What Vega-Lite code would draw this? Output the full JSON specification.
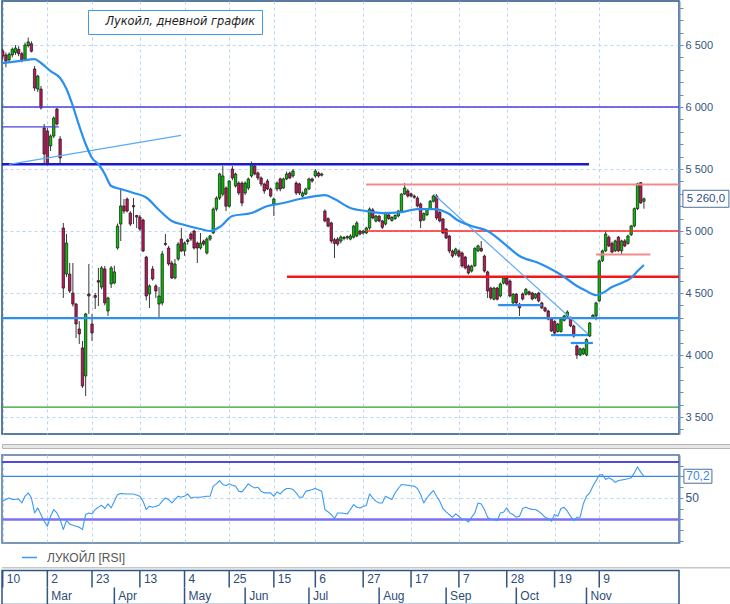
{
  "$schema": "https://vega.github.io/schema/vega-lite/v6.json",
  "description": "Лукойл, дневной график: свечи, скользящая средняя, уровни и RSI",
  "padding": {"left": 1, "top": 0, "right": 0, "bottom": 0},
  "background": "white",
  "config": {
    "locale": {"number": {"decimal": ",", "thousands": " ", "grouping": [3], "currency": ["", ""]}},
    "view": {"stroke": "#23507f", "strokeWidth": 1.5},
    "font": "Liberation Sans",
    "axis": {
      "labelFont": "Liberation Sans", "labelFontSize": 11, "labelColor": "#33557f",
      "domainColor": "#6d8db5", "domainWidth": 2, "tickColor": "#6d8db5", "tickSize": 4,
      "tickWidth": 1, "labelPadding": 2, "gridColor": "#b8d6f4", "gridDash": [3, 3], "gridWidth": 1
    }
  },
  "datasets": {
    "candles": [
      {"i":0,"o":6452,"h":6470,"l":6380,"c":6411},{"i":1,"o":6420,"h":6440,"l":6320,"c":6370},
      {"i":2,"o":6380,"h":6440,"l":6360,"c":6425},{"i":3,"o":6420,"h":6480,"l":6400,"c":6465},
      {"i":4,"o":6440,"h":6500,"l":6420,"c":6475},{"i":5,"o":6465,"h":6490,"l":6410,"c":6430},
      {"i":6,"o":6430,"h":6445,"l":6360,"c":6380},{"i":7,"o":6385,"h":6520,"l":6370,"c":6500},
      {"i":8,"o":6495,"h":6560,"l":6480,"c":6525},{"i":9,"o":6510,"h":6530,"l":6440,"c":6450},
      {"i":10,"o":6307,"h":6331,"l":6130,"c":6153},{"i":11,"o":6145,"h":6260,"l":6120,"c":6250},
      {"i":12,"o":6145,"h":6170,"l":5980,"c":5992},{"i":13,"o":5831,"h":5863,"l":5540,"c":5621},
      {"i":14,"o":5807,"h":5830,"l":5530,"c":5545},{"i":15,"o":5686,"h":5780,"l":5645,"c":5766},
      {"i":16,"o":5766,"h":5925,"l":5750,"c":5911},{"i":17,"o":5984,"h":5995,"l":5850,"c":5863},
      {"i":18,"o":5742,"h":5766,"l":5540,"c":5589},{"i":19,"o":5024,"h":5065,"l":4460,"c":4540},
      {"i":20,"o":4653,"h":4976,"l":4630,"c":4903},{"i":21,"o":4653,"h":4742,"l":4500,"c":4516},
      {"i":22,"o":4500,"h":4742,"l":4390,"c":4411},{"i":23,"o":4411,"h":4420,"l":4137,"c":4250},
      {"i":24,"o":4210,"h":4274,"l":4089,"c":4170},{"i":25,"o":4057,"h":4113,"l":3734,"c":3750},
      {"i":26,"o":3831,"h":4340,"l":3669,"c":4331},{"i":27,"o":4492,"h":4734,"l":4331,"c":4476},
      {"i":28,"o":4250,"h":4331,"l":4113,"c":4178},{"i":29,"o":4480,"h":4500,"l":4371,"c":4465},
      {"i":30,"o":4600,"h":4702,"l":4395,"c":4588},{"i":31,"o":4548,"h":4718,"l":4530,"c":4702},
      {"i":32,"o":4694,"h":4718,"l":4400,"c":4420},{"i":33,"o":4355,"h":4470,"l":4315,"c":4460},
      {"i":34,"o":4573,"h":4718,"l":4540,"c":4702},{"i":35,"o":4581,"h":4720,"l":4570,"c":4670},
      {"i":36,"o":4863,"h":5060,"l":4850,"c":5040},{"i":37,"o":5056,"h":5347,"l":4919,"c":5202},
      {"i":38,"o":5202,"h":5258,"l":5140,"c":5161},{"i":39,"o":5258,"h":5270,"l":5150,"c":5161},
      {"i":40,"o":5145,"h":5160,"l":5040,"c":5056},{"i":41,"o":5205,"h":5266,"l":5056,"c":5195},
      {"i":42,"o":5125,"h":5130,"l":5024,"c":5113},{"i":43,"o":5113,"h":5130,"l":5000,"c":5016},
      {"i":44,"o":5089,"h":5100,"l":4830,"c":4839},{"i":45,"o":4790,"h":4800,"l":4440,"c":4476},
      {"i":46,"o":4492,"h":4570,"l":4379,"c":4557},{"i":47,"o":4694,"h":4718,"l":4600,"c":4613},
      {"i":48,"o":4557,"h":4570,"l":4460,"c":4516},{"i":49,"o":4411,"h":4548,"l":4290,"c":4476},
      {"i":50,"o":4420,"h":4839,"l":4400,"c":4815},{"i":51,"o":4900,"h":4976,"l":4880,"c":4892},
      {"i":52,"o":4863,"h":4880,"l":4720,"c":4734},{"i":53,"o":4742,"h":4760,"l":4613,"c":4621},
      {"i":54,"o":4621,"h":4774,"l":4610,"c":4734},{"i":55,"o":4774,"h":4910,"l":4760,"c":4895},
      {"i":56,"o":4935,"h":5024,"l":4830,"c":4839},{"i":57,"o":4839,"h":4915,"l":4800,"c":4903},
      {"i":58,"o":4928,"h":4940,"l":4890,"c":4915},{"i":59,"o":4976,"h":4990,"l":4920,"c":4935},
      {"i":60,"o":5000,"h":5010,"l":4850,"c":4863},{"i":61,"o":4903,"h":4915,"l":4742,"c":4863},
      {"i":62,"o":4863,"h":4984,"l":4850,"c":4903},{"i":63,"o":4919,"h":4930,"l":4880,"c":4895},
      {"i":64,"o":4823,"h":4950,"l":4810,"c":4935},{"i":65,"o":4935,"h":4970,"l":4920,"c":4960},
      {"i":66,"o":4984,"h":5190,"l":4975,"c":5177},{"i":67,"o":5177,"h":5280,"l":5160,"c":5266},
      {"i":68,"o":5266,"h":5470,"l":5250,"c":5460},{"i":69,"o":5298,"h":5524,"l":5280,"c":5444},
      {"i":70,"o":5347,"h":5360,"l":5161,"c":5200},{"i":71,"o":5200,"h":5410,"l":5190,"c":5403},
      {"i":72,"o":5500,"h":5524,"l":5410,"c":5428},{"i":73,"o":5363,"h":5470,"l":5350,"c":5460},
      {"i":74,"o":5387,"h":5400,"l":5290,"c":5307},{"i":75,"o":5387,"h":5400,"l":5200,"c":5226},
      {"i":76,"o":5307,"h":5400,"l":5290,"c":5387},{"i":77,"o":5347,"h":5430,"l":5330,"c":5420},
      {"i":78,"o":5444,"h":5560,"l":5430,"c":5540},{"i":79,"o":5524,"h":5540,"l":5450,"c":5460},
      {"i":80,"o":5468,"h":5480,"l":5410,"c":5428},{"i":81,"o":5428,"h":5440,"l":5360,"c":5379},
      {"i":82,"o":5379,"h":5390,"l":5300,"c":5323},{"i":83,"o":5403,"h":5420,"l":5330,"c":5339},
      {"i":84,"o":5339,"h":5350,"l":5270,"c":5282},{"i":85,"o":5218,"h":5270,"l":5121,"c":5258},
      {"i":86,"o":5339,"h":5400,"l":5320,"c":5387},{"i":87,"o":5420,"h":5430,"l":5320,"c":5339},
      {"i":88,"o":5347,"h":5430,"l":5340,"c":5420},{"i":89,"o":5420,"h":5480,"l":5410,"c":5460},
      {"i":90,"o":5468,"h":5480,"l":5420,"c":5428},{"i":91,"o":5444,"h":5500,"l":5430,"c":5484},
      {"i":92,"o":5387,"h":5400,"l":5290,"c":5307},{"i":93,"o":5380,"h":5390,"l":5290,"c":5307},
      {"i":94,"o":5282,"h":5320,"l":5270,"c":5307},{"i":95,"o":5298,"h":5350,"l":5290,"c":5339},
      {"i":96,"o":5339,"h":5430,"l":5330,"c":5420},{"i":97,"o":5420,"h":5430,"l":5390,"c":5403},
      {"i":98,"o":5444,"h":5500,"l":5430,"c":5484},{"i":99,"o":5468,"h":5480,"l":5430,"c":5444},
      {"i":100,"o":5450,"h":5470,"l":5440,"c":5460},{"i":101,"o":5161,"h":5175,"l":5070,"c":5081},
      {"i":102,"o":5100,"h":5110,"l":5030,"c":5040},{"i":103,"o":5065,"h":5075,"l":4900,"c":4919},
      {"i":104,"o":4930,"h":4945,"l":4782,"c":4900},{"i":105,"o":4935,"h":4950,"l":4880,"c":4895},
      {"i":106,"o":4919,"h":4965,"l":4900,"c":4952},{"i":107,"o":4940,"h":4960,"l":4925,"c":4948},
      {"i":108,"o":4945,"h":4965,"l":4930,"c":4955},{"i":109,"o":4935,"h":4975,"l":4925,"c":4960},
      {"i":110,"o":4950,"h":5050,"l":4940,"c":5040},{"i":111,"o":4960,"h":5080,"l":4950,"c":5065},
      {"i":112,"o":5000,"h":5010,"l":4965,"c":4976},{"i":113,"o":4984,"h":5010,"l":4970,"c":5000},
      {"i":114,"o":4984,"h":5035,"l":4975,"c":5024},{"i":115,"o":5024,"h":5190,"l":5010,"c":5177},
      {"i":116,"o":5170,"h":5185,"l":5095,"c":5105},{"i":117,"o":5080,"h":5130,"l":5070,"c":5121},
      {"i":118,"o":5120,"h":5130,"l":5070,"c":5081},{"i":119,"o":5081,"h":5090,"l":5016,"c":5030},
      {"i":120,"o":5056,"h":5155,"l":5045,"c":5145},{"i":121,"o":5130,"h":5140,"l":5090,"c":5100},
      {"i":122,"o":5085,"h":5120,"l":5075,"c":5110},{"i":123,"o":5100,"h":5135,"l":5090,"c":5125},
      {"i":124,"o":5121,"h":5170,"l":5110,"c":5161},{"i":125,"o":5161,"h":5305,"l":5150,"c":5298},
      {"i":126,"o":5298,"h":5387,"l":5290,"c":5347},{"i":127,"o":5323,"h":5340,"l":5270,"c":5282},
      {"i":128,"o":5300,"h":5310,"l":5270,"c":5282},{"i":129,"o":5282,"h":5295,"l":5260,"c":5272},
      {"i":130,"o":5266,"h":5280,"l":5190,"c":5202},{"i":131,"o":5218,"h":5230,"l":5024,"c":5081},
      {"i":132,"o":5090,"h":5150,"l":5080,"c":5140},{"i":133,"o":5130,"h":5185,"l":5120,"c":5177},
      {"i":134,"o":5180,"h":5250,"l":5170,"c":5240},{"i":135,"o":5240,"h":5294,"l":5230,"c":5282},
      {"i":136,"o":5282,"h":5298,"l":5090,"c":5105},{"i":137,"o":5150,"h":5160,"l":5070,"c":5081},
      {"i":138,"o":5097,"h":5105,"l":4975,"c":4984},{"i":139,"o":5016,"h":5025,"l":4935,"c":4944},
      {"i":140,"o":4960,"h":4970,"l":4820,"c":4839},{"i":141,"o":4839,"h":4850,"l":4785,"c":4798},
      {"i":142,"o":4815,"h":4865,"l":4800,"c":4855},{"i":143,"o":4839,"h":4850,"l":4785,"c":4798},
      {"i":144,"o":4823,"h":4835,"l":4705,"c":4718},{"i":145,"o":4790,"h":4800,"l":4690,"c":4702},
      {"i":146,"o":4718,"h":4730,"l":4650,"c":4661},{"i":147,"o":4677,"h":4728,"l":4665,"c":4718},
      {"i":148,"o":4720,"h":4870,"l":4710,"c":4860},{"i":149,"o":4840,"h":4890,"l":4830,"c":4880},
      {"i":150,"o":4860,"h":4919,"l":4830,"c":4840},{"i":151,"o":4798,"h":4810,"l":4665,"c":4677},
      {"i":152,"o":4670,"h":4680,"l":4460,"c":4516},{"i":153,"o":4540,"h":4550,"l":4445,"c":4460},
      {"i":154,"o":4450,"h":4550,"l":4440,"c":4540},{"i":155,"o":4540,"h":4550,"l":4440,"c":4450},
      {"i":156,"o":4476,"h":4585,"l":4465,"c":4573},{"i":157,"o":4580,"h":4630,"l":4570,"c":4620},
      {"i":158,"o":4620,"h":4640,"l":4560,"c":4572},{"i":159,"o":4597,"h":4610,"l":4465,"c":4476},
      {"i":160,"o":4420,"h":4500,"l":4410,"c":4490},{"i":161,"o":4490,"h":4500,"l":4410,"c":4420},
      {"i":162,"o":4410,"h":4420,"l":4315,"c":4380},{"i":163,"o":4492,"h":4505,"l":4440,"c":4452},
      {"i":164,"o":4490,"h":4540,"l":4480,"c":4530},{"i":165,"o":4510,"h":4520,"l":4480,"c":4490},
      {"i":166,"o":4500,"h":4510,"l":4440,"c":4452},{"i":167,"o":4460,"h":4500,"l":4450,"c":4492},
      {"i":168,"o":4500,"h":4510,"l":4425,"c":4436},{"i":169,"o":4420,"h":4430,"l":4370,"c":4380},
      {"i":170,"o":4380,"h":4390,"l":4345,"c":4355},{"i":171,"o":4355,"h":4365,"l":4280,"c":4290},
      {"i":172,"o":4290,"h":4300,"l":4185,"c":4194},{"i":173,"o":4270,"h":4280,"l":4165,"c":4177},
      {"i":174,"o":4190,"h":4260,"l":4180,"c":4250},{"i":175,"o":4190,"h":4300,"l":4180,"c":4290},
      {"i":176,"o":4280,"h":4325,"l":4270,"c":4315},{"i":177,"o":4315,"h":4360,"l":4305,"c":4347},
      {"i":178,"o":4300,"h":4310,"l":4225,"c":4234},{"i":179,"o":4234,"h":4245,"l":4140,"c":4153},
      {"i":180,"o":4073,"h":4085,"l":3968,"c":4000},{"i":181,"o":4000,"h":4060,"l":3990,"c":4050},
      {"i":182,"o":4010,"h":4060,"l":4000,"c":4050},{"i":183,"o":4000,"h":4135,"l":3990,"c":4125},
      {"i":184,"o":4153,"h":4265,"l":4145,"c":4258},{"i":185,"o":4300,"h":4330,"l":4290,"c":4320},
      {"i":186,"o":4315,"h":4430,"l":4280,"c":4420},{"i":187,"o":4436,"h":4770,"l":4430,"c":4758},
      {"i":188,"o":4760,"h":4850,"l":4750,"c":4840},{"i":189,"o":4840,"h":5000,"l":4830,"c":4976},
      {"i":190,"o":4950,"h":4965,"l":4870,"c":4880},{"i":191,"o":4900,"h":4915,"l":4820,"c":4830},
      {"i":192,"o":4840,"h":4930,"l":4830,"c":4920},{"i":193,"o":4950,"h":4960,"l":4830,"c":4840},
      {"i":194,"o":4840,"h":4930,"l":4810,"c":4920},{"i":195,"o":4920,"h":4935,"l":4870,"c":4880},
      {"i":196,"o":4900,"h":4970,"l":4890,"c":4960},{"i":197,"o":4970,"h":5050,"l":4960,"c":5040},
      {"i":198,"o":5040,"h":5190,"l":5030,"c":5180},{"i":199,"o":5180,"h":5390,"l":5170,"c":5380},
      {"i":200,"o":5390,"h":5395,"l":5220,"c":5226},{"i":201,"o":5240,"h":5270,"l":5180,"c":5260}
    ],
    "ma": [
      {"i":0,"v":6355},{"i":5,"v":6370},{"i":10,"v":6387},{"i":12,"v":6355},{"i":15,"v":6290},
      {"i":18,"v":6234},{"i":20,"v":6145},{"i":22,"v":6008},{"i":24,"v":5847},{"i":26,"v":5702},
      {"i":28,"v":5589},{"i":30,"v":5540},{"i":32,"v":5460},{"i":34,"v":5363},{"i":37,"v":5339},
      {"i":41,"v":5307},{"i":45,"v":5270},{"i":49,"v":5170},{"i":53,"v":5081},{"i":57,"v":5049},
      {"i":62,"v":5016},{"i":65,"v":5000},{"i":68,"v":5032},{"i":72,"v":5121},{"i":78,"v":5145},
      {"i":83,"v":5202},{"i":88,"v":5226},{"i":93,"v":5258},{"i":98,"v":5282},{"i":101,"v":5290},
      {"i":104,"v":5258},{"i":109,"v":5186},{"i":114,"v":5161},{"i":119,"v":5145},{"i":125,"v":5153},
      {"i":130,"v":5177},{"i":135,"v":5177},{"i":140,"v":5137},{"i":142,"v":5097},{"i":147,"v":5040},
      {"i":152,"v":5000},{"i":157,"v":4903},{"i":162,"v":4798},{"i":168,"v":4742},{"i":173,"v":4677},
      {"i":176,"v":4629},{"i":180,"v":4557},{"i":183,"v":4516},{"i":186,"v":4482},{"i":188,"v":4500},
      {"i":191,"v":4548},{"i":194,"v":4581},{"i":197,"v":4621},{"i":199,"v":4677},{"i":201,"v":4726}
    ],
    "rsi": [
      {"i":0,"v":47},{"i":2,"v":50},{"i":3,"v":48.5},{"i":5,"v":49},{"i":6,"v":45.3},{"i":7,"v":51.6},
      {"i":8,"v":54.7},{"i":9,"v":50},{"i":10,"v":36},{"i":11,"v":40.7},{"i":12,"v":34.5},{"i":13,"v":28.3},
      {"i":14,"v":23.6},{"i":15,"v":32.9},{"i":16,"v":39.2},{"i":17,"v":36},{"i":18,"v":29.9},{"i":19,"v":20.5},
      {"i":20,"v":28.9},{"i":21,"v":25.7},{"i":22,"v":24.5},{"i":24,"v":22.7},{"i":25,"v":20.5},{"i":26,"v":34.5},
      {"i":27,"v":36},{"i":28,"v":35.1},{"i":29,"v":39.2},{"i":30,"v":41.3},{"i":31,"v":43.2},{"i":32,"v":40.1},
      {"i":33,"v":44.4},{"i":34,"v":40.7},{"i":35,"v":46.9},{"i":36,"v":53.2},{"i":37,"v":54.1},{"i":39,"v":53.7},
      {"i":41,"v":53.7},{"i":43,"v":51.6},{"i":44,"v":46.9},{"i":45,"v":39.2},{"i":46,"v":42.3},{"i":47,"v":41.3},
      {"i":49,"v":43.2},{"i":50,"v":47},{"i":51,"v":50},{"i":52,"v":48.5},{"i":53,"v":45.3},{"i":54,"v":48.5},
      {"i":55,"v":51.6},{"i":56,"v":50.7},{"i":57,"v":51.6},{"i":58,"v":53.7},{"i":59,"v":50},{"i":60,"v":50.7},
      {"i":62,"v":50.7},{"i":64,"v":51.6},{"i":65,"v":51.6},{"i":66,"v":60.9},{"i":67,"v":63.1},{"i":68,"v":66.2},
      {"i":69,"v":62.5},{"i":70,"v":61.6},{"i":71,"v":63.1},{"i":72,"v":61.8},{"i":73,"v":60.9},{"i":74,"v":56.2},
      {"i":75,"v":55.6},{"i":76,"v":59.3},{"i":77,"v":63.1},{"i":78,"v":60.9},{"i":79,"v":59.3},{"i":80,"v":60},
      {"i":81,"v":56.2},{"i":82,"v":54.7},{"i":84,"v":54.7},{"i":85,"v":51.6},{"i":86,"v":55.6},{"i":87,"v":53.7},
      {"i":88,"v":56.9},{"i":89,"v":58.8},{"i":90,"v":58.8},{"i":91,"v":57.8},{"i":92,"v":54.7},{"i":93,"v":50.7},
      {"i":94,"v":50.7},{"i":95,"v":56.2},{"i":96,"v":56.9},{"i":97,"v":57.8},{"i":98,"v":58.8},{"i":100,"v":56.2},
      {"i":101,"v":39.2},{"i":102,"v":37},{"i":103,"v":34.5},{"i":104,"v":30.8},{"i":105,"v":36},{"i":106,"v":36},
      {"i":108,"v":35.1},{"i":109,"v":39.2},{"i":110,"v":43.8},{"i":111,"v":41.3},{"i":112,"v":40.7},{"i":114,"v":43.2},
      {"i":115,"v":53.7},{"i":116,"v":50},{"i":117,"v":46.9},{"i":118,"v":45.3},{"i":119,"v":45.3},{"i":120,"v":51.6},
      {"i":121,"v":50},{"i":122,"v":48.5},{"i":123,"v":54.7},{"i":124,"v":58.8},{"i":125,"v":62.5},{"i":127,"v":61.8},
      {"i":129,"v":60.9},{"i":130,"v":58.8},{"i":131,"v":53.2},{"i":132,"v":45.3},{"i":133,"v":50},{"i":134,"v":53.7},
      {"i":135,"v":56.9},{"i":136,"v":51.6},{"i":137,"v":46.9},{"i":138,"v":40.1},{"i":139,"v":37},{"i":140,"v":34.5},
      {"i":141,"v":32},{"i":142,"v":35.1},{"i":143,"v":32.9},{"i":144,"v":29.9},{"i":145,"v":29.9},{"i":146,"v":27.6},
      {"i":147,"v":32},{"i":148,"v":36},{"i":149,"v":45.3},{"i":150,"v":44.4},{"i":151,"v":39.2},{"i":152,"v":32},
      {"i":153,"v":29.9},{"i":154,"v":29.9},{"i":155,"v":28.9},{"i":156,"v":36},{"i":157,"v":36.7},{"i":158,"v":40.7},
      {"i":159,"v":36},{"i":160,"v":34.5},{"i":161,"v":32},{"i":162,"v":32.9},{"i":163,"v":40.1},{"i":164,"v":41.3},
      {"i":165,"v":40.1},{"i":166,"v":39.2},{"i":167,"v":39.2},{"i":168,"v":37.6},{"i":169,"v":35.1},{"i":170,"v":32},
      {"i":171,"v":30.8},{"i":172,"v":28.3},{"i":173,"v":34.5},{"i":174,"v":32.9},{"i":175,"v":40.1},{"i":176,"v":41.3},
      {"i":177,"v":37.6},{"i":178,"v":32.9},{"i":179,"v":28.9},{"i":180,"v":32},{"i":181,"v":32},{"i":182,"v":44.4},
      {"i":183,"v":51.6},{"i":184,"v":54.7},{"i":185,"v":60.9},{"i":187,"v":71.2},{"i":188,"v":71.8},{"i":189,"v":67.2},
      {"i":190,"v":68.7},{"i":191,"v":67.2},{"i":192,"v":64.6},{"i":193,"v":66.2},{"i":195,"v":67.2},{"i":197,"v":68.7},
      {"i":198,"v":73.3},{"i":199,"v":79},{"i":200,"v":74},{"i":201,"v":70.2}
    ],
    "levels": [
      {"kind":"resist_hi","i1":-0.22,"i2":212,"p1":6000,"p2":6000},
      {"kind":"resist_hi","i1":-0.22,"i2":17.6,"p1":5840,"p2":5840},
      {"kind":"resist_main","i1":-0.22,"i2":183.8,"p1":5538,"p2":5538},
      {"kind":"trend","i1":2,"i2":55.9,"p1":5538,"p2":5772},
      {"kind":"resist_lo","i1":113.9,"i2":212,"p1":5375,"p2":5375},
      {"kind":"round","i1":113.9,"i2":212,"p1":5000,"p2":5000},
      {"kind":"pivot","i1":89.1,"i2":212,"p1":4632,"p2":4632},
      {"kind":"resist_lo","i1":186,"i2":203,"p1":4810,"p2":4810},
      {"kind":"support","i1":-0.22,"i2":212,"p1":4298,"p2":4298},
      {"kind":"support","i1":155.3,"i2":169,"p1":4403,"p2":4403},
      {"kind":"support","i1":171.9,"i2":183.5,"p1":4161,"p2":4161},
      {"kind":"support","i1":178.1,"i2":185,"p1":4097,"p2":4097},
      {"kind":"floor","i1":-0.22,"i2":212,"p1":3580,"p2":3580},
      {"kind":"trend","i1":135.2,"i2":183.5,"p1":5294,"p2":4169}
    ],
    "rsiLevels": [
      {"kind":"upper","v":83.5},{"kind":"mid","v":70},{"kind":"lower","v":30}
    ],
    "ticks": [
      {"row":"day","i":0,"label":"10"},{"row":"day","i":14,"label":"2"},{"row":"day","i":28,"label":"23"},
      {"row":"day","i":43,"label":"13"},{"row":"day","i":57,"label":"4"},{"row":"day","i":71,"label":"25"},
      {"row":"day","i":85,"label":"15"},{"row":"day","i":98,"label":"6"},{"row":"day","i":113,"label":"27"},
      {"row":"day","i":128,"label":"17"},{"row":"day","i":143,"label":"7"},{"row":"day","i":158,"label":"28"},
      {"row":"day","i":173,"label":"19"},{"row":"day","i":187,"label":"9"},
      {"row":"month","i":14,"label":"Mar"},{"row":"month","i":35,"label":"Apr"},{"row":"month","i":57,"label":"May"},
      {"row":"month","i":76,"label":"Jun"},{"row":"month","i":96,"label":"Jul"},{"row":"month","i":118,"label":"Aug"},
      {"row":"month","i":139,"label":"Sep"},{"row":"month","i":161,"label":"Oct"},{"row":"month","i":183,"label":"Nov"}
    ]
  },
  "bounds": "flush",
  "spacing": 10,
  "vconcat": [
    {
      "width": 677,
      "height": 433,
      "layer": [
        {
          "data": {"name": "candles"},
          "mark": {"type": "rule", "color": "#3a3a3a", "strokeWidth": 1, "clip": true},
          "encoding": {
            "x": {
              "field": "i", "type": "quantitative", "title": null,
              "scale": {"domain": [-0.22, 212], "nice": false, "zero": false, "padding": 0},
              "axis": {"values": [0, 14, 28, 43, 57, 71, 85, 98, 113, 128, 143, 158, 173, 187], "tickCount": 100,
                       "grid": true, "labels": false, "ticks": false, "domain": false}
            },
            "y": {
              "field": "l", "type": "quantitative", "title": null,
              "scale": {"domain": [3363, 6855], "nice": false, "zero": false, "padding": 0},
              "axis": {
                "orient": "right",
                "values": [3400,3500,3600,3700,3800,3900,4000,4100,4200,4300,4400,4500,4600,4700,4800,4900,5000,5100,5200,5300,5400,5500,5600,5700,5800,5900,6000,6100,6200,6300,6400,6500,6600,6700,6800],
                "tickCount": 100,
                "format": ",.0f",
                "labelExpr": "datum.value % 500 === 0 ? datum.label : ''",
                "labelOverlap": false, "labelFlush": false,
                "grid": true,
                "gridOpacity": {"condition": {"test": "datum.value % 500 === 0", "value": 1}, "value": 0}
              }
            },
            "y2": {"field": "h"}
          }
        },
        {
          "data": {"name": "candles"},
          "mark": {"type": "bar", "size": 2.4, "stroke": "#151515", "strokeWidth": 0.7, "clip": true},
          "encoding": {
            "x": {"field": "i", "type": "quantitative", "title": null},
            "y": {"field": "o", "type": "quantitative", "title": null},
            "y2": {"field": "c"},
            "color": {"condition": {"test": "datum.c >= datum.o", "value": "#00c400"}, "value": "#c4145c"}
          }
        },
        {
          "data": {"name": "levels"},
          "mark": {"type": "rule", "strokeCap": "butt", "strokeJoin": "round", "clip": true},
          "encoding": {
            "x": {"field": "i1", "type": "quantitative", "title": null},
            "x2": {"field": "i2"},
            "y": {"field": "p1", "type": "quantitative", "title": null},
            "y2": {"field": "p2"},
            "stroke": {
              "field": "kind", "type": "nominal", "legend": null,
              "scale": {"type": "ordinal",
                        "domain": ["resist_hi", "resist_main", "trend", "resist_lo", "round", "pivot", "support", "floor"],
                        "range": ["#4a40d8", "#1a1ad0", "#5aaaf8", "#f28a8a", "#ff2626", "#f01818", "#2e90ee", "#2ea02e"]}
            },
            "strokeWidth": {
              "field": "kind", "type": "nominal", "legend": null,
              "scale": {"type": "ordinal",
                        "domain": ["resist_hi", "resist_main", "trend", "resist_lo", "round", "pivot", "support", "floor"],
                        "range": [1.3, 2.5, 1.2, 2, 1.3, 2.5, 2.2, 1.3]}
            }
          }
        },
        {
          "data": {"name": "ma"},
          "mark": {"type": "line", "strokeWidth": 2.2, "interpolate": "monotone", "strokeJoin": "round", "clip": true},
          "encoding": {
            "x": {"field": "i", "type": "quantitative", "title": null},
            "y": {"field": "v", "type": "quantitative", "title": null},
            "color": {
              "datum": "Лукойл, дневной график",
              "scale": {"range": ["#2b8ff0"]},
              "legend": {
                "orient": "none", "legendX": 86, "legendY": 9, "title": null,
                "padding": 6, "strokeColor": "#3f9ae8", "fillColor": "#ffffff",
                "symbolType": "stroke", "symbolSize": 1, "symbolOpacity": 0, "symbolStrokeWidth": 0,
                "labelOffset": 0, "labelFont": "DejaVu Sans", "labelFontStyle": "italic",
                "labelFontSize": 11.4, "labelColor": "#1e1e1e", "labelLimit": 400
              }
            }
          }
        },
        {
          "data": {"name": "candles"},
          "transform": [{"filter": "datum.i == 201"}],
          "mark": {"type": "point", "shape": "M-1,-0.37H1V0.37H-1Z", "size": 2116, "filled": true,
                   "fill": "#ffffff", "stroke": "#4d6f9a", "strokeWidth": 1, "opacity": 1, "xOffset": 62},
          "encoding": {
            "x": {"field": "i", "type": "quantitative", "title": null},
            "y": {"field": "c", "type": "quantitative", "title": null}
          }
        },
        {
          "data": {"name": "candles"},
          "transform": [{"filter": "datum.i == 201"}],
          "mark": {"type": "text", "dx": 62, "align": "center", "baseline": "middle",
                   "font": "Liberation Sans", "fontSize": 11.5, "color": "#2d5080"},
          "encoding": {
            "x": {"field": "i", "type": "quantitative", "title": null},
            "y": {"field": "c", "type": "quantitative", "title": null},
            "text": {"field": "c", "type": "quantitative", "format": ",.1f"}
          }
        }
      ]
    },
    {
      "bounds": "flush",
      "spacing": 7,
      "vconcat": [
        {
          "width": 729,
          "height": 4,
          "data": {"name": "rsiLevels"},
          "transform": [{"filter": "datum.kind == 'mid'"}],
          "mark": {"type": "text", "text": ""},
          "view": {"fill": "#e6e6e6", "stroke": "#b4b4b4", "strokeWidth": 1}
        },
        {
          "bounds": "flush",
          "spacing": 24,
          "vconcat": [
            {
              "width": 677,
              "height": 88,
              "view": {"stroke": "#4f74a3", "strokeWidth": 1.5},
              "layer": [
                {
                  "data": {"name": "rsiLevels"},
                  "transform": [{"filter": "datum.kind == 'upper'"}],
                  "mark": {"type": "rule", "color": "#5048e0", "strokeWidth": 2, "clip": true},
                  "encoding": {
                    "y": {"field": "v", "type": "quantitative", "title": null,
                          "scale": {"domain": [8, 90], "nice": false, "zero": false},
                          "axis": {
                            "orient": "right", "values": [10, 20, 30, 40, 50, 60, 70, 80], "tickCount": 100,
                            "format": ".0f",
                            "labelExpr": "datum.value === 50 ? datum.label : ''",
                            "labelOverlap": false, "labelFlush": false, "grid": true,
                            "labelFontSize": 12,
                            "gridOpacity": {"condition": {"test": "datum.value === 50", "value": 1}, "value": 0}
                          }}
                  }
                },
                {
                  "data": {"name": "rsiLevels"},
                  "transform": [{"filter": "datum.kind == 'mid'"}],
                  "mark": {"type": "rule", "color": "#3d85e0", "strokeWidth": 1.2, "clip": true},
                  "encoding": {"y": {"field": "v", "type": "quantitative", "title": null}}
                },
                {
                  "data": {"name": "rsiLevels"},
                  "transform": [{"filter": "datum.kind == 'lower'"}],
                  "mark": {"type": "rule", "color": "#7b72f2", "strokeWidth": 2.5, "clip": true},
                  "encoding": {"y": {"field": "v", "type": "quantitative", "title": null}}
                },
                {
                  "data": {"name": "rsi"},
                  "mark": {"type": "line", "color": "#3a9af5", "strokeWidth": 1.1, "strokeJoin": "round", "clip": true},
                  "encoding": {
                    "x": {
                      "field": "i", "type": "quantitative", "title": null,
                      "scale": {"domain": [-0.22, 212], "nice": false, "zero": false, "padding": 0},
                      "axis": {"values": [0, 14, 28, 43, 57, 71, 85, 98, 113, 128, 143, 158, 173, 187], "tickCount": 100,
                               "grid": true, "labels": false, "ticks": false, "domain": false}
                    },
                    "y": {"field": "v", "type": "quantitative", "title": null},
                    "strokeDash": {
                      "datum": "ЛУКОЙЛ [RSI]",
                      "scale": {"range": [[1, 0]]},
                      "legend": {
                        "orient": "none", "legendX": 19, "legendY": 548, "title": null, "padding": 0,
                        "symbolType": "stroke", "symbolStrokeColor": "#3a9af5", "symbolSize": 225,
                        "symbolStrokeWidth": 1.5, "labelOffset": 9, "labelFont": "Liberation Sans",
                        "labelFontSize": 12, "labelColor": "#555555"
                      }
                    }
                  }
                },
                {
                  "data": {"name": "rsi"},
                  "transform": [{"filter": "datum.i == 201"}],
                  "mark": {"type": "point", "shape": "M-1,-0.5H1V0.5H-1Z", "size": 784, "filled": true,
                           "fill": "#ffffff", "stroke": "#4d6f9a", "strokeWidth": 1, "opacity": 1, "xOffset": 54},
                  "encoding": {
                    "x": {"field": "i", "type": "quantitative", "title": null},
                    "y": {"field": "v", "type": "quantitative", "title": null}
                  }
                },
                {
                  "data": {"name": "rsi"},
                  "transform": [{"filter": "datum.i == 201"}],
                  "mark": {"type": "text", "dx": 54, "align": "center", "baseline": "middle",
                           "font": "Liberation Sans", "fontSize": 12, "color": "#3f86dc"},
                  "encoding": {
                    "x": {"field": "i", "type": "quantitative", "title": null},
                    "y": {"field": "v", "type": "quantitative", "title": null},
                    "text": {"field": "v", "type": "quantitative", "format": ".1f"}
                  }
                }
              ]
            },
            {
              "bounds": "flush",
              "spacing": 1.5,
              "vconcat": [
                {
                  "width": 729,
                  "height": 1.5,
                  "data": {"name": "rsiLevels"},
                  "transform": [{"filter": "datum.kind == 'mid'"}],
                  "mark": {"type": "text", "text": ""},
                  "view": {"fill": "#c8c8c8", "stroke": null}
                },
                {
                  "width": 677,
                  "height": 34,
                  "data": {"name": "ticks"},
                  "view": {"stroke": "#2f5584", "strokeWidth": 1.5},
                  "encoding": {
                    "x": {"field": "i", "type": "quantitative", "title": null,
                          "scale": {"domain": [-0.22, 212], "nice": false, "zero": false, "padding": 0}, "axis": null}
                  },
                  "layer": [
                    {
                      "transform": [{"filter": "datum.row == 'day'"}],
                      "mark": {"type": "rule", "color": "#2f5584", "strokeWidth": 1.5, "clip": true},
                      "encoding": {
                        "y": {"datum": 0, "type": "quantitative", "scale": {"domain": [0, 2], "reverse": true, "nice": false, "zero": false}, "axis": null},
                        "y2": {"datum": 1}
                      }
                    },
                    {
                      "transform": [{"filter": "datum.row == 'month'"}],
                      "mark": {"type": "rule", "color": "#2f5584", "strokeWidth": 1.5, "clip": true},
                      "encoding": {
                        "y": {"datum": 1, "type": "quantitative"},
                        "y2": {"datum": 2}
                      }
                    },
                    {
                      "transform": [{"filter": "datum.row == 'day'"}],
                      "mark": {"type": "text", "align": "left", "baseline": "middle", "dx": 4,
                               "font": "Liberation Sans", "fontSize": 12, "color": "#2c4c78"},
                      "encoding": {
                        "y": {"datum": 0.5, "type": "quantitative"},
                        "text": {"field": "label"}
                      }
                    },
                    {
                      "transform": [{"filter": "datum.row == 'month'"}],
                      "mark": {"type": "text", "align": "left", "baseline": "middle", "dx": 4,
                               "font": "Liberation Sans", "fontSize": 12, "color": "#2c4c78"},
                      "encoding": {
                        "y": {"datum": 1.5, "type": "quantitative"},
                        "text": {"field": "label"}
                      }
                    },
                    {
                      "transform": [{"filter": "datum.i == 0"}],
                      "mark": {"type": "rule", "color": "#2f5584", "strokeWidth": 1.5, "clip": true},
                      "encoding": {
                        "x": {"value": null},
                        "y": {"datum": 1, "type": "quantitative"}
                      }
                    }
                  ]
                }
              ]
            }
          ]
        }
      ]
    }
  ]
}
